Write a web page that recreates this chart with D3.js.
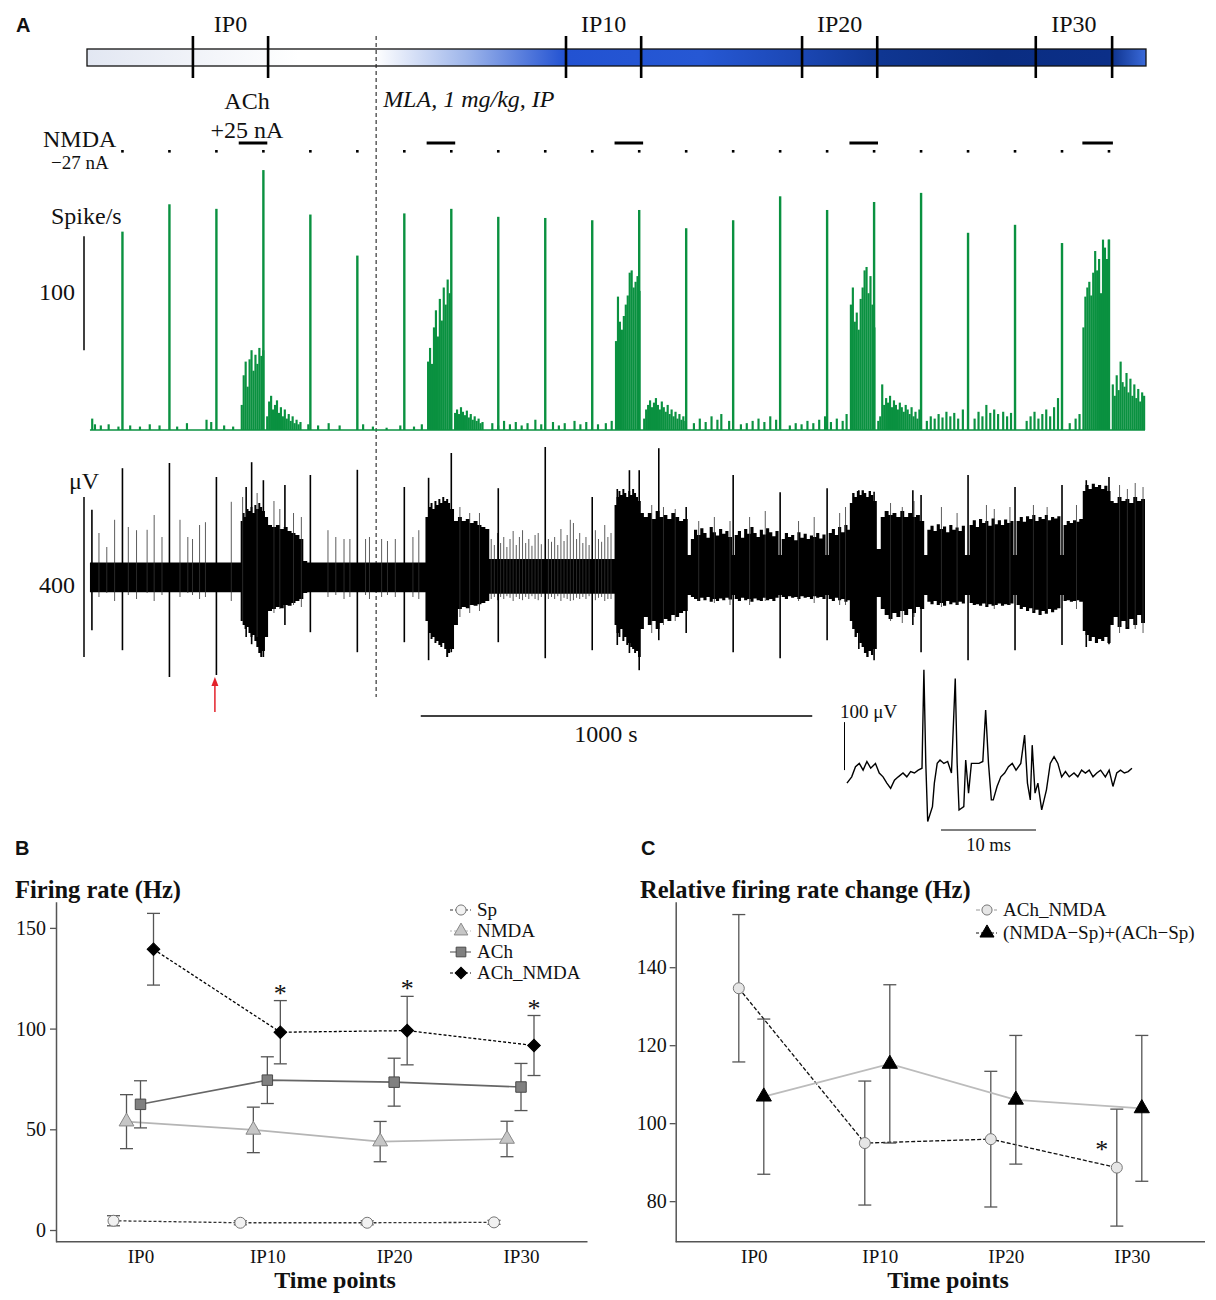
<!DOCTYPE html>
<html>
<head>
<meta charset="utf-8">
<script src="https://cdn.jsdelivr.net/npm/d3@7"></script>
<style>
body { margin: 0; background: #fff; }
svg text { font-family: "Liberation Serif", "Times New Roman", serif; fill: #111; }
</style>
</head>
<body>
<div id="chart"></div>
<script>
// ---------- data: panel A (time in s) ----------
const ipLabels = ["IP0", "IP10", "IP20", "IP30"];
const ipWindows = [[268, 460], [1221, 1413], [1824, 2016], [2421, 2616]];
const mlaTime = 736;
const nmdaPulses = [88, 208, 328, 448, 568, 688, 808, 928, 1048, 1168, 1288, 1408, 1528, 1648, 1768, 1888, 2008, 2128, 2248, 2368, 2488, 2608];
const achWindows = [[385, 458], [865, 938], [1345, 1418], [1945, 2018], [2540, 2618]];

// spike/s histogram
const pulseRate = [174, 198, 194, 228, 189, 153, 190, 194, 187, 186, 184, 193, 177, 184, 205, 193, 200, 208, 173, 180, 164, 167];
const achBurst1 = [22, 48, 60, 38, 62, 70, 52, 66, 58, 72, 65, 70];
const postBurst1 = [12, 25, 30, 18, 22, 26, 15, 20, 12, 18, 10, 14, 8, 12, 6, 9, 5, 7];
const achBurst2 = [60, 72, 58, 90, 105, 82, 115, 96, 125, 110, 132, 120];
const postBurst2 = [15, 18, 14, 20, 16, 13, 17, 11, 14, 9, 12, 8, 10, 6, 7];
const achBurst3 = [78, 117, 95, 88, 100, 110, 118, 138, 140, 125, 130, 135, 122];
const postBurst3 = [10, 18, 22, 26, 20, 24, 28, 22, 18, 25, 20, 16, 22, 14, 18, 12, 16, 10, 14, 9, 12, 8];
const achBurst4 = [110, 125, 95, 103, 88, 115, 125, 140, 143, 120, 135, 110, 90];
const postBurst4 = [8, 12, 40, 22, 28, 24, 30, 20, 26, 22, 18, 24, 20, 16, 22, 18, 14, 20, 12, 16, 10, 18];
const achBurst5 = [90, 117, 125, 130, 118, 138, 157, 140, 150, 120, 167, 160, 150, 167];
const postBurst5 = [40, 30, 48, 35, 60, 42, 38, 50, 33, 45, 30, 40, 28, 36, 25, 33, 30];
const burstStarts = [390, 455, 866, 935, 1346, 1418, 1946, 2016, 2540, 2615];
const bgRate = [[8,10],[15,5],[30,4],[50,5],[75,3],[105,4],[130,3],[155,5],[180,4],[225,3],[250,6],[300,9],[312,7],[345,4],[368,3],
  [560,5],[585,4],[612,6],[640,4],[700,5],[725,3],[760,2],[795,4],[830,3],[850,5],[1030,6],[1045,4],[1060,8],[1075,5],[1090,7],
  [1105,4],[1120,6],[1140,9],[1155,5],[1185,7],[1200,4],[1215,6],[1240,8],[1255,5],[1270,7],[1300,5],[1320,6],[1335,8],[1545,6],
  [1560,10],[1575,7],[1590,12],[1605,9],[1615,14],[1635,8],[1665,5],[1680,6],[1695,8],[1710,10],[1725,7],[1740,12],[1755,9],
  [1790,4],[1805,6],[1820,5],[1835,8],[1850,6],[1865,9],[1880,12],[1895,7],[1910,10],[1925,8],[1935,14],[2140,8],[2150,12],
  [2160,10],[2170,14],[2180,11],[2190,16],[2200,12],[2210,15],[2220,10],[2232,18],[2262,10],[2272,16],[2282,12],[2292,22],
  [2302,15],[2312,18],[2322,14],[2335,16],[2345,12],[2355,15],[2395,8],[2405,12],[2415,16],[2425,10],[2435,14],[2445,18],
  [2455,12],[2465,20],[2475,28],[2505,6],[2520,10],[2530,14]];

// raw trace (µV): envelope [t, up, down], single spikes and small units
const traceEnvelope = [[5,36,38],[390,140,110],[395,160,120],[400,150,130],[405,170,125],[410,165,140],[415,175,150],[420,160,145],
  [425,180,160],[430,170,175],[435,185,190],[440,175,200],[445,165,185],[452,150,150],[460,130,85],[470,125,80],[480,130,75],
  [490,120,78],[500,125,70],[510,115,72],[520,110,65],[530,105,60],[540,95,55],[550,40,40],[560,36,38],
  [862,150,110],[870,175,140],[875,185,155],[880,170,150],[885,190,165],[890,180,160],[895,195,170],[900,185,175],[905,200,165],
  [910,190,180],[915,195,200],[920,185,190],[925,170,180],[935,140,120],[945,150,80],[955,140,75],[965,145,78],[975,135,70],
  [985,140,72],[995,130,68],[1005,125,65],[1015,120,60],[1025,45,42],
  [1345,180,120],[1350,200,140],[1355,215,150],[1360,205,130],[1365,220,160],[1370,210,150],[1375,200,170],[1380,215,165],
  [1385,205,175],[1390,220,180],[1395,210,190],[1400,200,185],[1405,190,200],[1412,160,130],[1420,150,100],[1430,160,120],
  [1440,145,110],[1450,165,130],[1460,150,115],[1470,155,105],[1480,145,110],[1490,160,95],[1500,150,100],[1510,140,90],
  [1520,145,85],[1532,55,45],
  [1540,95,50],[1548,118,55],[1556,105,60],[1564,122,52],[1572,110,58],[1580,98,50],[1588,125,62],[1596,112,55],[1604,104,60],
  [1612,120,54],[1620,108,58],[1628,115,52],[1636,100,56],[1645,55,45],
  [1652,105,55],[1660,115,60],[1668,98,52],[1676,120,58],[1684,108,55],[1692,125,62],[1700,110,54],[1708,100,58],[1716,118,60],
  [1724,106,52],[1732,122,58],[1740,112,55],[1748,102,60],[1756,115,52],[1764,55,45],
  [1772,95,50],[1780,110,55],[1788,100,48],[1796,105,52],[1804,92,50],[1812,112,55],[1820,98,48],[1828,108,52],[1836,95,50],
  [1844,104,55],[1852,100,48],[1860,110,52],[1868,96,50],[1876,106,55],[1884,55,45],
  [1892,110,55],[1900,120,60],[1908,105,52],[1916,125,58],[1924,112,55],[1932,130,62],[1940,118,58],
  [1946,185,110],[1952,210,130],[1958,200,150],[1964,215,140],[1970,205,165],[1976,217,175],[1982,210,190],
  [1988,200,200],[1994,215,185],[2000,205,195],[2006,190,180],[2015,70,50],[2025,150,80],[2035,165,95],[2045,155,105],
  [2055,160,90],[2065,150,100],[2075,165,85],[2085,150,95],[2095,160,80],[2105,150,90],[2115,155,75],[2125,140,80],
  [2136,55,45],[2144,118,62],[2152,128,68],[2160,115,60],[2168,132,70],[2176,120,65],[2184,126,72],[2192,112,60],[2200,130,68],
  [2208,118,64],[2216,124,70],[2224,115,62],[2232,128,66],[2240,55,45],
  [2252,130,65],[2260,142,70],[2268,125,68],[2276,145,72],[2284,135,66],[2292,140,75],[2300,128,68],[2308,146,72],[2316,132,70],
  [2324,142,66],[2332,130,72],[2340,144,68],[2348,135,70],[2356,140,66],[2364,55,45],
  [2372,140,70],[2380,150,80],[2388,138,75],[2396,152,85],[2404,145,78],[2412,155,90],[2420,140,82],[2428,150,95],[2436,145,85],
  [2444,155,92],[2452,142,80],[2460,150,88],[2468,146,82],[2476,152,78],[2484,55,45],
  [2492,130,60],[2500,140,58],[2508,135,62],[2516,142,60],[2524,138,58],[2532,145,62],
  [2541,215,135],[2548,230,145],[2556,220,160],[2564,233,150],[2572,225,165],[2580,230,155],
  [2588,220,160],[2596,228,150],[2604,215,165],[2612,190,120],[2620,185,100],[2630,200,125],[2640,190,110],[2650,195,130],
  [2660,185,105],[2670,200,120],[2680,190,95],[2690,195,115],[2700,195,115]];
const traceSpikes = [[10,168,133],[88,272,183],[208,285,250],[328,250,245],[404,225,150],[418,287,168],[448,242,200],[503,230,120],
  [568,255,138],[688,268,188],[808,225,163],[870,248,208],[928,310,188],[1048,222,163],[1168,325,203],[1288,200,183],
  [1352,220,170],[1383,267,190],[1408,267,233],[1458,322,158],[1528,175,140],[1648,255,188],[1768,212,203],[1888,222,158],
  [1969,217,180],[2008,213,208],[2107,217,120],[2128,205,188],[2248,255,208],[2368,225,183],[2488,230,170],[2550,242,175],[2608,250,168]];
const traceHairs = [[28,110,50],[48,75,40],[68,143,60],[103,125,45],[124,117,55],[151,118,40],[169,155,60],[189,100,45],[235,143,50],
  [255,100,40],[267,95,45],[285,130,55],[300,137,50],[366,188,60],[395,200,110],[432,210,150],[475,190,90],[490,170,80],
  [525,160,70],[545,150,75],[613,117,50],[633,100,45],[654,95,55],[669,95,50],[709,95,45],[719,100,55],[750,95,50],[765,90,45],
  [785,95,50],[830,100,50],[845,117,55],[950,175,100],[975,160,90],[1000,160,85],
  [1030,95,55],[1038,80,50],[1046,110,58],[1054,85,50],[1062,100,55],[1070,75,48],[1078,95,52],[1086,115,60],[1094,80,50],
  [1102,100,55],[1110,117,58],[1118,85,50],[1126,95,55],[1134,78,48],[1142,105,55],[1150,110,58],[1158,82,50],[1176,95,55],
  [1184,88,50],[1192,100,55],[1200,80,48],[1208,120,60],[1216,90,52],[1224,105,55],[1232,143,60],[1240,135,58],[1248,95,52],
  [1256,110,55],[1264,85,50],[1272,100,55],[1280,80,48],[1296,117,58],[1304,95,52],[1312,88,50],[1320,130,60],[1328,100,55],
  [1336,110,55],[1440,180,140],[1470,175,120],[1500,170,110],[1560,140,60],[1600,150,65],[1640,140,70],[1690,150,70],
  [1730,165,60],[1815,140,60],[1855,150,65],[1920,160,70],[1935,175,70],[2050,185,110],[2080,175,115],[2110,190,100],
  [2180,175,75],[2220,160,70],[2295,180,70],[2315,170,80],[2355,175,70],[2415,180,85],[2450,175,80],[2525,180,80],
  [2635,230,140],[2655,220,125],[2675,235,130],[2695,225,140]];

// inset unit waveform [ms, µV]
const unitWave = [[0.1,-21],[0.6,-8],[1.0,13],[1.4,20],[1.8,6],[2.2,24],[2.6,10],[3.1,20],[3.5,0],[3.9,-8],[4.3,-21],[4.7,-32],
  [5.1,-15],[5.5,-8],[6.0,0],[6.4,-8],[6.8,3],[7.2,0],[7.6,6],[8.0,10],[8.2,215],[8.4,20],[8.6,-101],[9.1,-70],[9.3,-21],
  [9.6,20],[9.9,27],[10.3,20],[10.7,24],[11.1,0],[11.5,197],[11.7,20],[11.9,-77],[12.4,-70],[12.6,27],[12.9,-42],[13.2,20],
  [13.6,20],[14.0,20],[14.4,24],[14.7,131],[15.0,20],[15.3,-56],[15.5,-56],[15.9,-28],[16.3,-8],[16.7,0],[17.1,13],[17.5,20],
  [17.9,6],[18.4,20],[18.8,79],[19.1,-21],[19.4,-56],[19.6,58],[19.9,-42],[20.2,-21],[20.6,-77],[21.1,-35],[21.5,20],[21.9,34],
  [22.3,20],[22.7,-8],[23.1,3],[23.5,-8],[24.0,0],[24.4,-8],[24.8,6],[25.2,0],[25.6,6],[26.0,-8],[26.4,0],[26.8,6],[27.3,-8],
  [27.7,6],[28.1,-28],[28.5,0],[28.9,6],[29.3,0],[29.7,3],[30.1,10]];

// ---------- data: panel B (Hz) ----------
const sp = [4.6, 3.6, 3.6, 3.8], spErr = [2.5, 1, 1, 1];
const nmda = [53.8, 49.7, 43.9, 45.2], nmdaErr = [13.4, 11.3, 10, 8.8];
const ach = [62.4, 74.4, 73.4, 71.0], achErr = [11.7, 11.6, 11.9, 11.7];
const achNmda = [139.4, 98.2, 99.0, 91.6], achNmdaErr = [17.8, 15.7, 17, 14.9];
const sigB = ["IP10", "IP20", "IP30"];
const yTicksB = [0, 50, 100, 150];

// ---------- data: panel C (Hz) ----------
const relAchNmda = [134.6, 94.9, 95.9, 88.6], relAchNmdaErr = [18.9, 15.9, 17.4, 15];
const relSum = [106.8, 115.2, 106, 103.8], relSumErr = [19.9, 20.3, 16.5, 18.7];
const sigC = ["IP30"];
const yTicksC = [80, 100, 120, 140];

// ---------- setup ----------
const green = "#0a9140";
const binSec = 5;
const svg = d3.select("#chart").append("svg").attr("width", 1216).attr("height", 1300);

const xTime = d3.scaleLinear().domain([0, 2700]).range([88, 1145]);
const yRate = d3.scaleLinear().domain([0, 250]).range([430, 145]);
const yTrace = d3.scaleLinear().domain([-300, 350]).range([697, 437]);

function label(x, y, txt, size, opts = {}) {
  const t = svg.append("text").attr("x", x).attr("y", y).attr("font-size", size)
    .attr("text-anchor", opts.anchor || "start").text(txt);
  if (opts.weight) t.attr("font-weight", opts.weight);
  if (opts.style) t.attr("font-style", opts.style);
  if (opts.family) t.style("font-family", opts.family);
  return t;
}
const sans = "'Liberation Sans', Arial, sans-serif";

// ---------- panel A ----------
label(16, 32, "A", 20, {weight: "bold", family: sans});

const grad = svg.append("defs").append("linearGradient").attr("id", "mlaGrad");
[[0, "#e2e7f2"], [0.2, "#ffffff"], [0.272, "#ffffff"], [0.36, "#9cb4ea"], [0.452, "#2252d2"], [0.58, "#2658d4"],
 [0.673, "#1b47b4"], [0.75, "#0f3692"], [0.86, "#0a2d82"], [0.965, "#0b2f88"], [1, "#3a6ada"]]
  .forEach(s => grad.append("stop").attr("offset", s[0]).attr("stop-color", s[1]));

svg.append("rect").attr("x", xTime(0) - 1).attr("y", 49)
  .attr("width", xTime(2700) - xTime(0) + 2).attr("height", 17)
  .attr("fill", "url(#mlaGrad)").attr("stroke", "#111").attr("stroke-width", 1.3);

ipWindows.forEach((w, i) => {
  w.forEach(t => svg.append("line").attr("x1", xTime(t)).attr("x2", xTime(t))
    .attr("y1", 36).attr("y2", 78).attr("stroke", "#000").attr("stroke-width", 2.6));
  label((xTime(w[0]) + xTime(w[1])) / 2, 32, ipLabels[i], 24, {anchor: "middle"});
});

// MLA injection line
svg.append("line").attr("x1", xTime(mlaTime)).attr("x2", xTime(mlaTime))
  .attr("y1", 36).attr("y2", 697).attr("stroke", "#222").attr("stroke-width", 1.1)
  .attr("stroke-dasharray", "4,3");
label(xTime(mlaTime) + 7, 107, "MLA, 1 mg/kg, IP", 24, {style: "italic"});

label(247, 109, "ACh", 24, {anchor: "middle"});
label(247, 138, "+25 nA", 24, {anchor: "middle"});
label(43, 147, "NMDA", 24);
label(51, 169, "\u221227 nA", 19);

svg.selectAll(null).data(nmdaPulses).join("rect")
  .attr("x", d => xTime(d) - 1.3).attr("y", 150).attr("width", 2.6).attr("height", 2.6).attr("fill", "#000");
svg.selectAll(null).data(achWindows).join("line")
  .attr("x1", d => xTime(d[0])).attr("x2", d => xTime(d[1]))
  .attr("y1", 143).attr("y2", 143).attr("stroke", "#000").attr("stroke-width", 3);

// histogram
const burstArrays = [achBurst1, postBurst1, achBurst2, postBurst2, achBurst3, postBurst3, achBurst4, postBurst4, achBurst5, postBurst5];
const binned = bgRate.concat(burstArrays.flatMap((arr, k) => arr.map((r, i) => [burstStarts[k] + i * binSec, r])));
const hist = svg.append("g");
hist.append("line").attr("x1", xTime(5)).attr("x2", xTime(2700)).attr("y1", yRate(0)).attr("y2", yRate(0))
  .attr("stroke", green).attr("stroke-width", 1.6);
hist.selectAll(null).data(binned).join("rect")
  .attr("x", d => xTime(d[0])).attr("y", d => yRate(d[1]))
  .attr("width", xTime(binSec) - xTime(0) + 0.2).attr("height", d => yRate(0) - yRate(d[1]))
  .attr("fill", green);
hist.selectAll(null).data(nmdaPulses).join("rect")
  .attr("x", d => xTime(d) - 1.2).attr("y", (d, i) => yRate(pulseRate[i]))
  .attr("width", 2.4).attr("height", (d, i) => yRate(0) - yRate(pulseRate[i]))
  .attr("fill", green);

svg.append("line").attr("x1", 84).attr("x2", 84).attr("y1", yRate(70)).attr("y2", yRate(170))
  .attr("stroke", "#000").attr("stroke-width", 1.5);
label(51, 224, "Spike/s", 24);
label(75, 300, "100", 24, {anchor: "end"});

// raw trace
const trace = svg.append("g");
trace.append("path").datum(traceEnvelope)
  .attr("d", d3.area().x(d => xTime(d[0])).y0(d => yTrace(-d[2])).y1(d => yTrace(d[1])).curve(d3.curveStepAfter))
  .attr("fill", "#000");
trace.selectAll(null).data(traceHairs).join("line")
  .attr("x1", d => xTime(d[0])).attr("x2", d => xTime(d[0]))
  .attr("y1", d => yTrace(-d[2])).attr("y2", d => yTrace(d[1]))
  .attr("stroke", "#333").attr("stroke-width", 0.8);
trace.selectAll(null).data(traceSpikes).join("line")
  .attr("x1", d => xTime(d[0])).attr("x2", d => xTime(d[0]))
  .attr("y1", d => yTrace(-d[2])).attr("y2", d => yTrace(d[1]))
  .attr("stroke", "#000").attr("stroke-width", 1.6);

svg.append("line").attr("x1", 84).attr("x2", 84).attr("y1", yTrace(200)).attr("y2", yTrace(-200))
  .attr("stroke", "#000").attr("stroke-width", 1.5);
label(69, 489, "\u03bcV", 24);
label(75, 593, "400", 24, {anchor: "end"});

// red arrow to the marked spike
const ax = xTime(nmdaPulses[2]) - 1.5;
svg.append("line").attr("x1", ax).attr("x2", ax).attr("y1", 712).attr("y2", 684)
  .attr("stroke", "#e3222b").attr("stroke-width", 1.5);
svg.append("path").attr("d", `M${ax - 3.5},686L${ax + 3.5},686L${ax},677Z`).attr("fill", "#e3222b");

// 1000 s scale bar
svg.append("line").attr("x1", xTime(850)).attr("x2", xTime(1850)).attr("y1", 716).attr("y2", 716)
  .attr("stroke", "#000").attr("stroke-width", 1.5);
label(606, 742, "1000 s", 24, {anchor: "middle"});

// inset waveform
const xInset = d3.scaleLinear().domain([0, 30]).range([846, 1131]);
const yInset = d3.scaleLinear().domain([-100, 220]).range([821, 667.4]);
svg.append("path").datum(unitWave)
  .attr("d", d3.line().x(d => xInset(d[0])).y(d => yInset(d[1])))
  .attr("fill", "none").attr("stroke", "#000").attr("stroke-width", 1.4);
svg.append("line").attr("x1", 844.5).attr("x2", 844.5).attr("y1", yInset(6)).attr("y2", yInset(106))
  .attr("stroke", "#000").attr("stroke-width", 1);
label(840, 718, "100 \u03bcV", 19);
svg.append("line").attr("x1", xInset(10)).attr("x2", xInset(20)).attr("y1", 830).attr("y2", 830)
  .attr("stroke", "#000").attr("stroke-width", 1);
label(xInset(15), 851, "10 ms", 18.5, {anchor: "middle"});

// ---------- shared helpers for B and C ----------
function styleAxis(g, size) {
  g.select(".domain").attr("stroke", "#555").attr("stroke-width", 1.5);
  g.selectAll(".tick line").attr("stroke", "#555").attr("stroke-width", 1.3);
  g.selectAll(".tick text").attr("font-size", size).attr("fill", "#222")
    .style("font-family", "'Liberation Serif', serif");
}
function marker(g, type, x, y, size, fill, stroke) {
  const rot = type === "diamond" ? " rotate(45)" : "";
  const sym = {circle: d3.symbolCircle, triangle: d3.symbolTriangle, square: d3.symbolSquare, diamond: d3.symbolSquare}[type];
  g.append("path").attr("d", d3.symbol().type(sym).size(size)())
    .attr("transform", `translate(${x},${y})${rot}`)
    .attr("fill", fill).attr("stroke", stroke).attr("stroke-width", 1);
}
function drawSeries(g, xS, yS, s) {
  const pts = s.values.map((v, i) => [xS(ipLabels[i]) + s.dx, v, s.err[i]]);
  pts.forEach(p => {
    g.append("line").attr("x1", p[0]).attr("x2", p[0]).attr("y1", yS(p[1] - p[2])).attr("y2", yS(p[1] + p[2]))
      .attr("stroke", "#555").attr("stroke-width", 1.3);
    [p[1] - p[2], p[1] + p[2]].forEach(e => g.append("line")
      .attr("x1", p[0] - 6.5).attr("x2", p[0] + 6.5).attr("y1", yS(e)).attr("y2", yS(e))
      .attr("stroke", "#555").attr("stroke-width", 1.3));
  });
  g.append("path").datum(pts).attr("d", d3.line().x(d => d[0]).y(d => yS(d[1])))
    .attr("fill", "none").attr("stroke", s.line).attr("stroke-width", s.lw)
    .attr("stroke-dasharray", s.dash);
  return pts;
}
function drawMarkers(g, yS, pts, s) {
  pts.forEach(p => marker(g, s.symbol, p[0], yS(p[1]), s.size, s.fill, s.stroke));
}
function legend(g, items, x, y0, dy, size) {
  items.forEach((s, i) => {
    const y = y0 + i * dy;
    g.append("line").attr("x1", x - 11).attr("x2", x + 10).attr("y1", y).attr("y2", y)
      .attr("stroke", s.legLine || s.line).attr("stroke-width", 1.2).attr("stroke-dasharray", s.legDash || s.dash);
    marker(g, s.symbol, x, y, s.size * 0.85, s.fill, s.stroke);
    g.append("text").attr("x", x + 16).attr("y", y + 6).attr("font-size", size).text(s.legName || s.name);
  });
}

// ---------- panel B ----------
label(15, 855, "B", 20, {weight: "bold", family: sans});
label(15, 898, "Firing rate (Hz)", 24.5, {weight: "bold"});
const xB = d3.scalePoint().domain(ipLabels).range([140.5, 521]);
const yB = d3.scaleLinear().domain([-5.8, 163]).range([1241.7, 901.7]);
const gB = svg.append("g");
gB.append("g").attr("transform", "translate(56,0)")
  .call(d3.axisLeft(yB).tickValues(yTicksB).tickSize(6).tickSizeOuter(0).tickPadding(4))
  .call(g => styleAxis(g, 20));
gB.append("g").attr("transform", "translate(0,1241.7)")
  .call(d3.axisBottom(xB).tickSize(0).tickPadding(8))
  .call(g => { styleAxis(g, 19); g.select(".domain").remove(); });
gB.append("line").attr("x1", 56).attr("x2", 587.5).attr("y1", 1241.7).attr("y2", 1241.7)
  .attr("stroke", "#555").attr("stroke-width", 1.5);
label(335, 1288, "Time points", 24, {weight: "bold", anchor: "middle"});

const seriesB = [
  {name: "Sp", values: sp, err: spErr, dx: -27, symbol: "circle", size: 95, fill: "#f2f2f2", stroke: "#777", line: "#333", dash: "3,2", lw: 1.3},
  {name: "NMDA", values: nmda, err: nmdaErr, dx: -14, symbol: "triangle", size: 95, fill: "#c6c6c6", stroke: "#888", line: "#b5b5b5", dash: null, lw: 1.7, legDash: "2,2"},
  {name: "ACh", values: ach, err: achErr, dx: 0, symbol: "square", size: 110, fill: "#808080", stroke: "#4a4a4a", line: "#666", dash: null, lw: 1.6},
  {name: "ACh_NMDA", values: achNmda, err: achNmdaErr, dx: 13, symbol: "diamond", size: 80, fill: "#000", stroke: "#000", line: "#000", dash: "3,2", lw: 1.3}
];
const ptsB = seriesB.map(s => drawSeries(gB, xB, yB, s));
seriesB.forEach((s, i) => drawMarkers(gB, yB, ptsB[i], s));
sigB.forEach(c => {
  const i = ipLabels.indexOf(c);
  gB.append("text").attr("x", xB(c) + 13).attr("y", yB(achNmda[i] + achNmdaErr[i]) + 1)
    .attr("text-anchor", "middle").attr("font-size", 26).text("*");
});
legend(gB, seriesB, 461, 910, 21, 19);

// ---------- panel C ----------
label(641, 855, "C", 20, {weight: "bold", family: sans});
label(640, 898, "Relative firing rate change (Hz)", 24.5, {weight: "bold"});
const xC = d3.scalePoint().domain(ipLabels).range([753.8, 1131.8]);
const yC = d3.scaleLinear().domain([69.6, 156.8]).range([1241.7, 901.7]);
const gC = svg.append("g");
gC.append("g").attr("transform", "translate(675.7,0)")
  .call(d3.axisLeft(yC).tickValues(yTicksC).tickSize(6).tickSizeOuter(0).tickPadding(3))
  .call(g => styleAxis(g, 20));
gC.append("g").attr("transform", "translate(0,1241.7)")
  .call(d3.axisBottom(xC).tickSize(0).tickPadding(8))
  .call(g => { styleAxis(g, 19); g.select(".domain").remove(); });
gC.append("line").attr("x1", 675.7).attr("x2", 1205).attr("y1", 1241.7).attr("y2", 1241.7)
  .attr("stroke", "#555").attr("stroke-width", 1.5);
label(948, 1288, "Time points", 24, {weight: "bold", anchor: "middle"});

const seriesC = [
  {name: "ACh_NMDA", values: relAchNmda, err: relAchNmdaErr, dx: -15, symbol: "circle", size: 95, fill: "#e6e6e6", stroke: "#777", line: "#111", dash: "4,2", lw: 1.3, legLine: "#999", legDash: null},
  {name: "(NMDA\u2212Sp)+(ACh\u2212Sp)", values: relSum, err: relSumErr, dx: 10, symbol: "triangle", size: 100, fill: "#000", stroke: "#000", line: "#bcbcbc", dash: null, lw: 1.8, legLine: "#111", legDash: "3,2"}
];
const ptsC = seriesC.map(s => drawSeries(gC, xC, yC, s));
seriesC.forEach((s, i) => drawMarkers(gC, yC, ptsC[i], s));
sigC.forEach(c => {
  const i = ipLabels.indexOf(c);
  gC.append("text").attr("x", xC(c) - 30).attr("y", yC(relAchNmda[i]) - 10)
    .attr("text-anchor", "middle").attr("font-size", 26).text("*");
});
legend(gC, seriesC, 987, 910, 23, 19);
</script>
</body>
</html>
